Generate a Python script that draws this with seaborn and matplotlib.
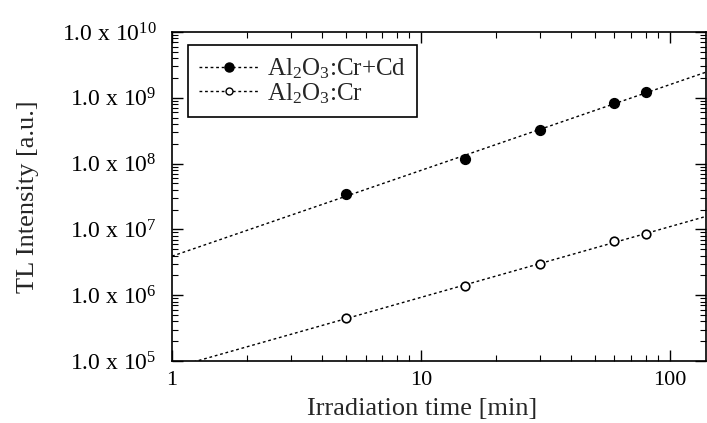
import numpy as np
import pandas as pd
import matplotlib
matplotlib.use("Agg")
import matplotlib.pyplot as plt
import seaborn as sns
from matplotlib.lines import Line2D
from matplotlib.ticker import LogLocator, FixedLocator, NullFormatter

# data
time_min = [5, 15, 30, 60, 80]
tl_cr_cd = [3.5e7, 1.16e8, 3.2e8, 8.4e8, 1.24e9]
tl_cr = [4.5e5, 1.37e6, 3.0e6, 6.6e6, 8.5e6]
series_labels = [r"Al$_2$O$_3$:Cr+Cd", r"Al$_2$O$_3$:Cr"]
ytick_vals = [1e5, 1e6, 1e7, 1e8, 1e9, 1e10]
ytick_labels = [r"1.0 x 10$^{5}$", r"1.0 x 10$^{6}$", r"1.0 x 10$^{7}$",
                r"1.0 x 10$^{8}$", r"1.0 x 10$^{9}$", r"1.0 x 10$^{10}$"]
xtick_vals = [1, 10, 100]
xtick_labels = ["1", "10", "100"]

sns.set_style("ticks")
plt.rcParams["font.family"] = ["Liberation Serif", "DejaVu Serif"]
plt.rcParams["mathtext.fontset"] = "custom"
plt.rcParams["mathtext.rm"] = "Liberation Serif"
plt.rcParams["mathtext.it"] = "Liberation Serif:italic"
plt.rcParams["mathtext.bf"] = "Liberation Serif:bold"

fig = plt.figure(figsize=(7.07, 4.23), dpi=100)
ax = fig.add_axes([0.2433, 0.1466, 0.7553, 0.7777])

df = pd.DataFrame({
    "t": time_min * 2,
    "I": tl_cr_cd + tl_cr,
    "s": [series_labels[0]] * len(time_min) + [series_labels[1]] * len(time_min),
})

xfit = np.logspace(0, np.log10(140), 100)
fits = []
for vals in (tl_cr_cd, tl_cr):
    p = np.polyfit(np.log10(time_min), np.log10(vals), 1)
    fits.append(10 ** np.polyval(p, np.log10(xfit)))
fitdf = pd.DataFrame({"t": np.concatenate([xfit, xfit]),
                      "I": np.concatenate(fits),
                      "s": [series_labels[0]] * len(xfit) + [series_labels[1]] * len(xfit)})

sns.lineplot(data=fitdf, x="t", y="I", hue="s", palette=["black", "black"],
             linestyle=(0, (2, 2)), linewidth=1.0, legend=False, ax=ax, zorder=2)
sub = df[df.s == series_labels[0]]
sns.scatterplot(data=sub, x="t", y="I", color="black", s=50, marker="o",
                edgecolor="black", linewidth=1.0, legend=False, ax=ax, zorder=3)
sub = df[df.s == series_labels[1]]
sns.scatterplot(data=sub, x="t", y="I", facecolor="white", s=38, marker="o",
                edgecolor="black", linewidth=1.2, legend=False, ax=ax, zorder=3)

ax.set_xscale("log")
ax.set_yscale("log")
ax.set_xlim(1, 140)
ax.set_ylim(1e5, 1e10)

ax.yaxis.set_major_locator(FixedLocator(ytick_vals))
ax.set_yticklabels(ytick_labels)
ax.xaxis.set_major_locator(FixedLocator(xtick_vals))
ax.set_xticklabels(xtick_labels)
ax.xaxis.set_minor_locator(LogLocator(base=10, subs=np.arange(2, 10)))
ax.yaxis.set_minor_locator(LogLocator(base=10, subs=np.arange(2, 10)))
ax.xaxis.set_minor_formatter(NullFormatter())
ax.yaxis.set_minor_formatter(NullFormatter())

ax.tick_params(which="both", direction="in", top=True, right=True, colors="black")
ax.tick_params(which="major", length=8, width=1.0)
ax.tick_params(which="minor", length=4.5, width=0.8)
ax.tick_params(axis="y", which="major", pad=11, labelsize=17)
ax.tick_params(axis="x", which="major", pad=7, labelsize=16)
for sp in ax.spines.values():
    sp.set_visible(True)
    sp.set_color("black")
    sp.set_linewidth(1.2)

ax.set_xlabel("Irradiation time [min]", fontsize=19)
ax.set_ylabel("TL Intensity [a.u.]", fontsize=19)
ax.xaxis.set_label_coords(0.468, -0.112)
ax.yaxis.set_label_coords(-0.25, 0.5)

handles = [
    Line2D([0], [0], color="black", linestyle=(0, (2, 2)), linewidth=1.0,
           marker="o", markersize=6.5, markerfacecolor="black", markeredgecolor="black"),
    Line2D([0], [0], color="black", linestyle=(0, (2, 2)), linewidth=1.0,
           marker="o", markersize=5, markerfacecolor="white", markeredgecolor="black"),
]
leg = ax.legend(handles, series_labels, loc="upper left",
                bbox_to_anchor=(0.03, 0.96), fontsize=18, frameon=True,
                fancybox=False, edgecolor="black", framealpha=1,
                handlelength=2.4, handletextpad=0.3, labelspacing=0.0,
                borderpad=0.45, borderaxespad=0, numpoints=1)
leg.get_frame().set_linewidth(1.2)

fig.savefig("out.png", dpi=100)
